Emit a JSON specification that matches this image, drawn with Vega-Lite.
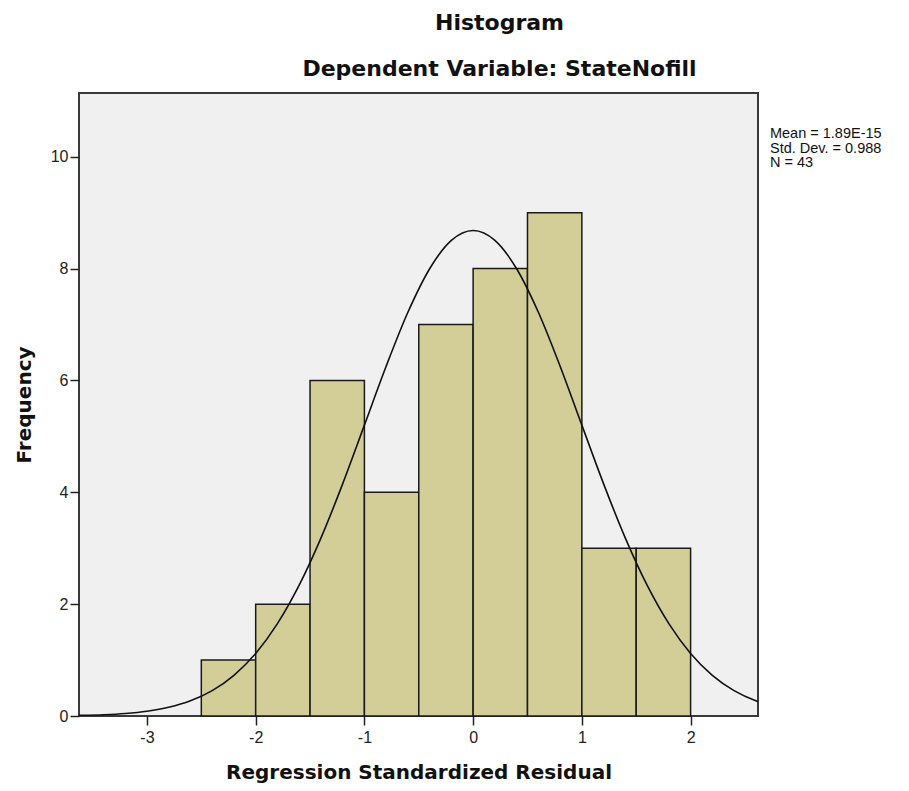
{
  "$schema": "https://vega.github.io/schema/vega-lite/v6.json",
  "autosize": {"type": "none"},
  "width": 679,
  "height": 623,
  "padding": {"left": 79, "top": 93, "right": 151, "bottom": 75},
  "background": "white",
  "config": {
    "view": {"fill": "#f0f0f0", "stroke": "#3a3a3a", "strokeWidth": 2},
    "axis": {"grid": false, "domain": false, "tickColor": "#222", "tickSize": 9, "tickWidth": 1.5,
      "labelFont": "Liberation Sans", "labelFontSize": 16, "labelColor": "#222",
      "titleFont": "DejaVu Sans", "titleFontSize": 20, "titleFontWeight": "bold", "titleColor": "#111"}
  },
  "title": {
    "text": "Histogram",
    "subtitle": "Dependent Variable: StateNofill",
    "font": "DejaVu Sans", "fontSize": 22, "fontWeight": "bold", "color": "#111",
    "subtitleFont": "DejaVu Sans", "subtitleFontSize": 22, "subtitleFontWeight": "bold", "subtitleColor": "#111",
    "subtitlePadding": 24, "anchor": "middle", "frame": "group", "dx": 81, "offset": 12
  },
  "datasets": {
    "bins": [
      {"bin_start": -2.5, "bin_end": -2.0, "count": 1},
      {"bin_start": -2.0, "bin_end": -1.5, "count": 2},
      {"bin_start": -1.5, "bin_end": -1.0, "count": 6},
      {"bin_start": -1.0, "bin_end": -0.5, "count": 4},
      {"bin_start": -0.5, "bin_end": 0.0, "count": 7},
      {"bin_start": 0.0, "bin_end": 0.5, "count": 8},
      {"bin_start": 0.5, "bin_end": 1.0, "count": 9},
      {"bin_start": 1.0, "bin_end": 1.5, "count": 3},
      {"bin_start": 1.5, "bin_end": 2.0, "count": 3}
    ],
    "curve": [
      {"x": -3.8, "y": 0.0053}, {"x": -3.6, "y": 0.0114}, {"x": -3.4, "y": 0.0233}, {"x": -3.2, "y": 0.0457},
      {"x": -3.0, "y": 0.0863}, {"x": -2.8, "y": 0.1564}, {"x": -2.6, "y": 0.272}, {"x": -2.4, "y": 0.4541},
      {"x": -2.2, "y": 0.7274}, {"x": -2.0, "y": 1.118}, {"x": -1.8, "y": 1.651}, {"x": -1.6, "y": 2.339},
      {"x": -1.4, "y": 3.181}, {"x": -1.2, "y": 4.151}, {"x": -1.0, "y": 5.201}, {"x": -0.8, "y": 6.254},
      {"x": -0.6, "y": 7.219}, {"x": -0.4, "y": 7.998}, {"x": -0.2, "y": 8.505}, {"x": 0.0, "y": 8.681},
      {"x": 0.2, "y": 8.505}, {"x": 0.4, "y": 7.998}, {"x": 0.6, "y": 7.219}, {"x": 0.8, "y": 6.254},
      {"x": 1.0, "y": 5.201}, {"x": 1.2, "y": 4.151}, {"x": 1.4, "y": 3.181}, {"x": 1.6, "y": 2.339},
      {"x": 1.8, "y": 1.651}, {"x": 2.0, "y": 1.118}, {"x": 2.2, "y": 0.7274}, {"x": 2.4, "y": 0.4541},
      {"x": 2.6, "y": 0.272}, {"x": 2.8, "y": 0.1564}
    ]
  },
  "layer": [
    {
      "data": {"name": "bins"},
      "mark": {"type": "rect", "fill": "#d3ce97", "stroke": "#1a1a1a", "strokeWidth": 1.5},
      "encoding": {
        "x": {"field": "bin_start", "type": "quantitative",
          "scale": {"domain": [-3.625, 2.62], "nice": false, "zero": false},
          "axis": {"values": [-3, -2, -1, 0, 1, 2], "labelExpr": "'' + datum.value", "title": "Regression Standardized Residual", "titlePadding": 17, "labelPadding": 4}},
        "x2": {"field": "bin_end"},
        "y": {"field": "count", "type": "quantitative",
          "scale": {"domain": [0, 11.14], "nice": false},
          "axis": {"values": [0, 2, 4, 6, 8, 10], "labelExpr": "'' + datum.value", "title": "Frequency", "titlePadding": 16, "labelPadding": 2}},
        "y2": {"datum": 0}
      }
    },
    {
      "data": {"name": "curve"},
      "mark": {"type": "line", "color": "#111", "strokeWidth": 1.6, "interpolate": "monotone", "clip": true},
      "encoding": {
        "x": {"field": "x", "type": "quantitative"},
        "y": {"field": "y", "type": "quantitative"}
      }
    },
    {
      "data": {"values": [{}]},
      "mark": {"type": "text", "text": ["Mean = 1.89E-15", "Std. Dev. = 0.988", "N = 43"],
        "font": "Liberation Sans", "fontSize": 14.5, "lineHeight": 14.5, "align": "left", "baseline": "top", "color": "#111", "clip": false},
      "encoding": {
        "x": {"datum": 2.73, "type": "quantitative"},
        "y": {"datum": 10.53, "type": "quantitative"}
      }
    }
  ]
}
